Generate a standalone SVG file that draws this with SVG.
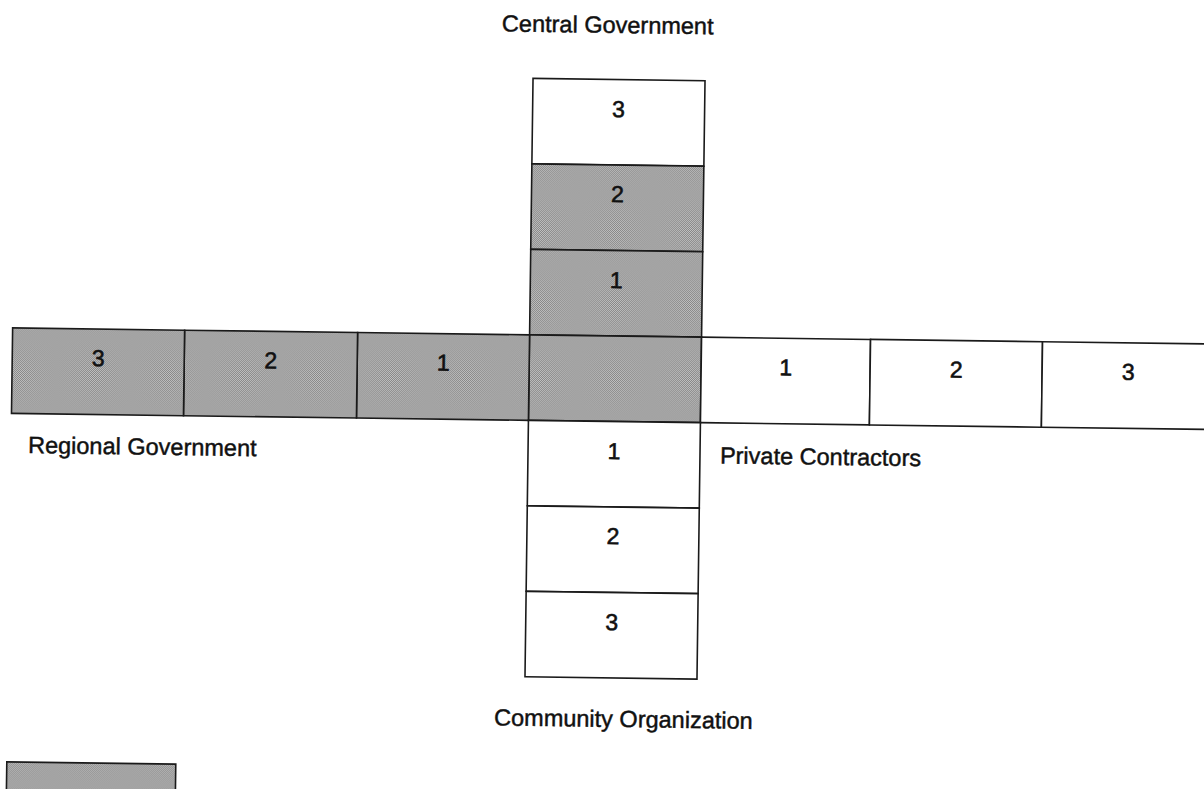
<svg xmlns="http://www.w3.org/2000/svg" width="1204" height="789" viewBox="0 0 1204 789">
  <defs>
    <pattern id="stipple" width="2" height="2" patternUnits="userSpaceOnUse">
      <rect width="2" height="2" fill="#c2c2c2"/>
      <rect width="1" height="1" fill="#858585"/>
      <rect x="1" y="1" width="1" height="1" fill="#858585"/>
    </pattern>
  </defs>
  <style>
    .cell { stroke: #1a1a1a; stroke-width: 1.6; }
    .shaded { fill: url(#stipple); }
    .blank { fill: #ffffff; }
    .num { font-family: "Liberation Sans", Arial, sans-serif; font-size: 23px; fill: #111111; stroke: #111111; stroke-width: 0.6; text-anchor: middle; }
    .label { font-family: "Liberation Sans", Arial, sans-serif; font-size: 23.5px; fill: #111111; stroke: #111111; stroke-width: 0.45; }
  </style>
  <rect width="1204" height="789" fill="#ffffff"/>
  <g transform="rotate(0.77 615 379)">
    <!-- Central Government column -->
    <g id="central-3"><rect class="cell blank" x="529" y="79.5" width="172" height="85.5"/><text class="num" x="615" y="117">3</text></g>
    <g id="central-2"><rect class="cell shaded" x="529" y="165" width="172" height="85.5"/><text class="num" x="615" y="202">2</text></g>
    <g id="central-1"><rect class="cell shaded" x="529" y="250.5" width="172" height="85.5"/><text class="num" x="615" y="288">1</text></g>
    <!-- Center -->
    <g id="center"><rect class="cell shaded" x="529" y="336" width="172" height="85.5"/></g>
    <!-- Regional Government row -->
    <g id="regional-1"><rect class="cell shaded" x="357" y="336" width="172" height="85.5"/><text class="num" x="443" y="373">1</text></g>
    <g id="regional-2"><rect class="cell shaded" x="184" y="336" width="173" height="85.5"/><text class="num" x="270.5" y="373">2</text></g>
    <g id="regional-3"><rect class="cell shaded" x="12" y="336" width="172" height="85.5"/><text class="num" x="98" y="373">3</text></g>
    <!-- Private Contractors row -->
    <g id="private-1"><rect class="cell blank" x="701" y="336" width="169" height="85.5"/><text class="num" x="785.5" y="373">1</text></g>
    <g id="private-2"><rect class="cell blank" x="870" y="336" width="172" height="85.5"/><text class="num" x="956" y="373">2</text></g>
    <g id="private-3"><rect class="cell blank" x="1042" y="336" width="172" height="85.5"/><text class="num" x="1128" y="373">3</text></g>
    <!-- Community Organization column -->
    <g id="community-1"><rect class="cell blank" x="529" y="421.5" width="172" height="85.5"/><text class="num" x="615" y="459">1</text></g>
    <g id="community-2"><rect class="cell blank" x="529" y="507" width="172" height="85.5"/><text class="num" x="615" y="544">2</text></g>
    <g id="community-3"><rect class="cell blank" x="529" y="592.5" width="172" height="85.5"/><text class="num" x="615" y="630">3</text></g>
    <!-- Labels -->
    <g id="labels">
      <text class="label" x="603" y="33" text-anchor="middle">Central Government</text>
      <text class="label" x="29" y="461">Regional Government</text>
      <text class="label" x="721" y="462">Private Contractors</text>
      <text class="label" x="628" y="727" text-anchor="middle">Community Organization</text>
    </g>
    <!-- Legend swatch -->
    <g id="legend"><rect class="cell shaded" x="12" y="770" width="169" height="86"/></g>
  </g>
  <g id="connectors"></g>
</svg>
